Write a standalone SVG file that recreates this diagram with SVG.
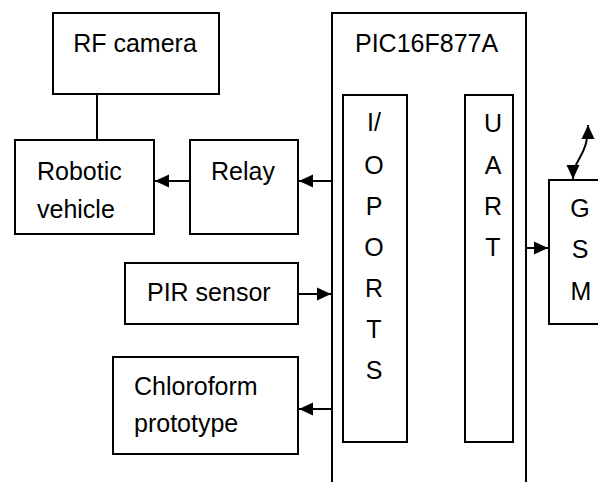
<svg xmlns="http://www.w3.org/2000/svg" width="598" height="482" viewBox="0 0 598 482">
<defs>
<style>
rect{fill:#fff;stroke:#000;stroke-width:2}
text{font-family:"Liberation Sans",Arial,sans-serif;font-size:25px;fill:#000}
.c{text-anchor:middle}
.ln{fill:none;stroke:#000;stroke-width:2}
</style>
<marker id="ah" markerUnits="userSpaceOnUse" markerWidth="15" markerHeight="14" refX="14" refY="6.5" orient="auto-start-reverse" viewBox="0 0 15 13">
<path d="M0,0 L14,6.5 L0,13 z" fill="#000"/>
</marker>
</defs>
<g id="pic">
<rect x="332" y="13" width="194" height="490"/>
<text x="355" y="52">PIC16F877A</text>
</g>
<g id="ioports">
<rect x="343" y="95" width="64" height="347"/>
<text class="c" x="374" y="131">I/</text>
<text class="c" x="374" y="174">O</text>
<text class="c" x="374" y="215">P</text>
<text class="c" x="374" y="256">O</text>
<text class="c" x="374" y="297">R</text>
<text class="c" x="374" y="338">T</text>
<text class="c" x="374" y="379">S</text>
</g>
<g id="uart">
<rect x="465" y="95" width="48" height="347"/>
<text class="c" x="493" y="132">U</text>
<text class="c" x="493" y="174">A</text>
<text class="c" x="493" y="215">R</text>
<text class="c" x="493" y="256">T</text>
</g>
<g id="gsm">
<rect x="549" y="180" width="80" height="144"/>
<text class="c" x="580" y="217">G</text>
<text class="c" x="580" y="258">S</text>
<text class="c" x="581" y="300">M</text>
</g>
<g id="rfcamera">
<rect x="53" y="13" width="166" height="81"/>
<text class="c" x="135" y="52">RF camera</text>
</g>
<g id="robotic">
<rect x="15" y="140" width="139" height="94"/>
<text x="37" y="180">Robotic</text>
<text x="37" y="218">vehicle</text>
</g>
<g id="relay">
<rect x="190" y="140" width="108" height="94"/>
<text x="211" y="180">Relay</text>
</g>
<g id="pir">
<rect x="125" y="263" width="173" height="61"/>
<text x="147" y="301">PIR sensor</text>
</g>
<g id="chloroform">
<rect x="113" y="357" width="185" height="97"/>
<text x="134" y="395">Chloroform</text>
<text x="134" y="432">prototype</text>
</g>
<g id="connectors">
<line class="ln" x1="97" y1="94" x2="97" y2="140"/>
<line class="ln" x1="190" y1="181" x2="155" y2="181" marker-end="url(#ah)"/>
<line class="ln" x1="332" y1="181" x2="299" y2="181" marker-end="url(#ah)"/>
<line class="ln" x1="298" y1="294" x2="331" y2="294" marker-end="url(#ah)"/>
<line class="ln" x1="332" y1="409" x2="299" y2="409" marker-end="url(#ah)"/>
<line class="ln" x1="526" y1="248" x2="548" y2="248" marker-end="url(#ah)"/>
<path class="ln" d="M573,179 C573,158 588,158 588,125" marker-start="url(#ah)" marker-end="url(#ah)"/>
</g>
</svg>
